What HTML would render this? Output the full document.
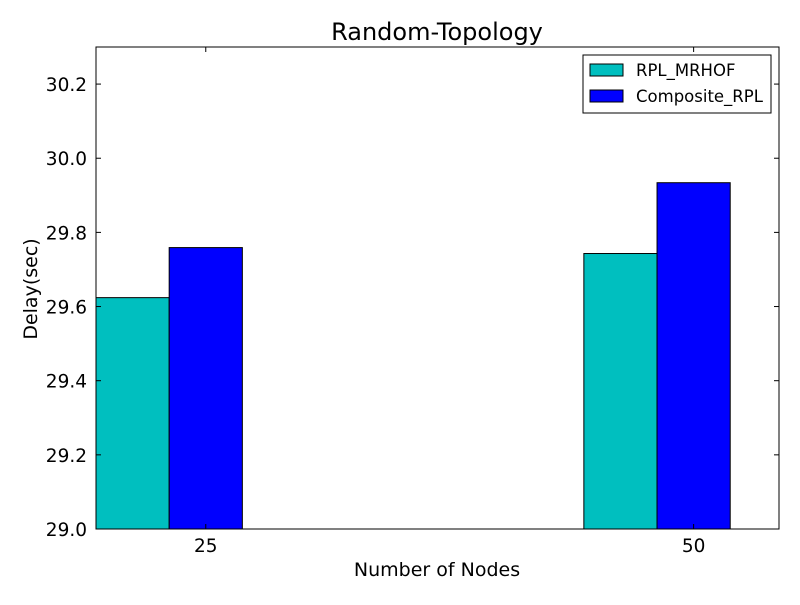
<!DOCTYPE html>
<html><head><meta charset="utf-8"><style>
body{margin:0;background:#fff}
svg text{font-family:"DejaVu Sans","Liberation Sans",sans-serif}
</style></head><body>
<svg id="chart" width="800" height="600" viewBox="0 0 800 600">
<rect width="800" height="600" fill="#fff"/>
<g id="bars"></g>
<rect x="96" y="47" width="683" height="482" fill="none" stroke="#000" stroke-width="1"/>
<g id="axes"></g>
<text x="437" y="40" font-size="24" text-anchor="middle">Random-Topology</text>
<text x="437" y="576" font-size="19" text-anchor="middle">Number of Nodes</text>
<text transform="translate(37,289) rotate(-90)" font-size="19" text-anchor="middle">Delay(sec)</text>
<g>
<rect x="583" y="55" width="188" height="58" fill="#fff" stroke="#000"/>
<g>
<rect x="590" y="64" width="33" height="12" fill="#00bfbf" stroke="#000"/>
<text x="636" y="76" font-size="16.5">RPL_MRHOF</text></g>
<g>
<rect x="590" y="90" width="33" height="12" fill="#0000ff" stroke="#000"/>
<text x="636" y="102" font-size="16.5">Composite_RPL</text></g>
</g>
</svg>
<script>
const categories = ["25", "50"];
const mrhof = [29.624, 29.743];
const composite = [29.759, 29.934];
const yTicks = [29.0, 29.2, 29.4, 29.6, 29.8, 30.0, 30.2];
const NS = "http://www.w3.org/2000/svg";
const X0 = 96, X1 = 779, Y0 = 529, Y1 = 47;
const xMin = 0, xMax = 1.4, yMin = 29.0, yMax = 30.3, W = 0.15;
const xs = v => X0 + (v - xMin) / (xMax - xMin) * (X1 - X0);
const ys = v => Y0 - (v - yMin) / (yMax - yMin) * (Y0 - Y1);
function mk(tag, attrs, parent) { const e = document.createElementNS(NS, tag); for (const k in attrs) e.setAttribute(k, attrs[k]); parent.appendChild(e); return e; }
const bars = document.getElementById("bars"), axes = document.getElementById("axes");
categories.forEach((c, i) => {
  const b1 = mk("rect", {x: xs(i), y: ys(mrhof[i]), width: xs(i + W) - xs(i), height: ys(yMin) - ys(mrhof[i]), fill: "#00bfbf", stroke: "#000"}, bars);
  
  
  const b2 = mk("rect", {x: xs(i + W), y: ys(composite[i]), width: xs(i + 2 * W) - xs(i + W), height: ys(yMin) - ys(composite[i]), fill: "#0000ff", stroke: "#000"}, bars);
  
  
  const tx = xs(i + 1.5 * W);
  mk("line", {x1: tx, x2: tx, y1: Y0, y2: Y0 - 5, stroke: "#000"}, axes);
  mk("line", {x1: tx, x2: tx, y1: Y1, y2: Y1 + 5, stroke: "#000"}, axes);
  const t = mk("text", {x: tx, y: Y0 + 23, "font-size": 18.5, "text-anchor": "middle"}, axes);
  t.textContent = c;
  
  
});
yTicks.forEach(v => {
  const y = ys(v);
  mk("line", {x1: X0, x2: X0 + 5, y1: y, y2: y, stroke: "#000"}, axes);
  mk("line", {x1: X1, x2: X1 - 5, y1: y, y2: y, stroke: "#000"}, axes);
  const t = mk("text", {x: X0 - 9, y: y + 7, "font-size": 18.5, "text-anchor": "end"}, axes);
  t.textContent = v.toFixed(1);
  
  
});
</script>
</body></html>
